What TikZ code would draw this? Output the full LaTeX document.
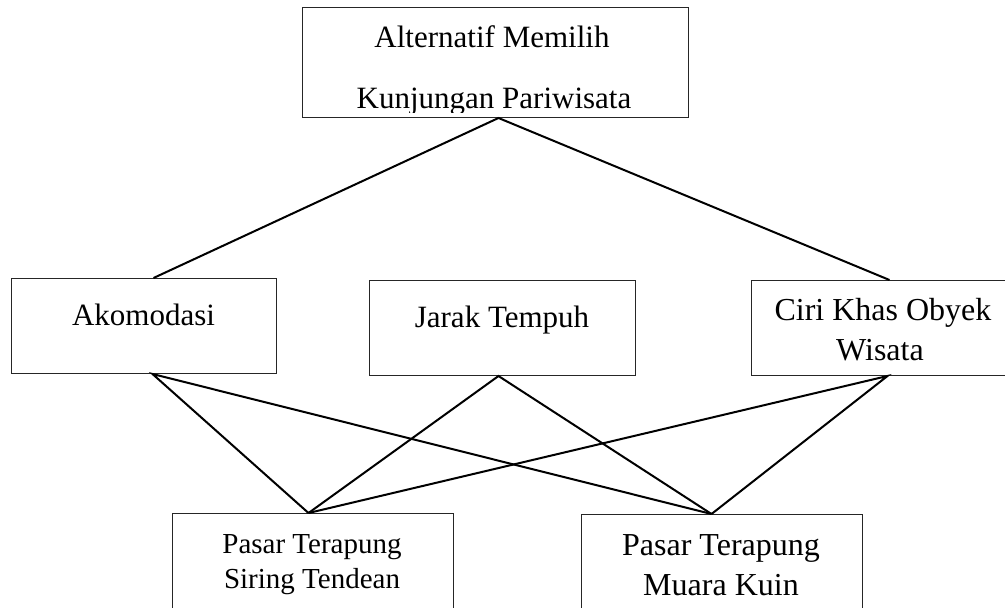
\documentclass[tikz,border=0pt]{standalone}
\usepackage{fontspec}
\setmainfont{Liberation Serif}
\begin{document}
\begin{tikzpicture}[x=1pt,y=-1pt,
  box/.style={draw=black!85, line width=1pt, rectangle, inner sep=0pt, anchor=north west},
  link/.style={draw=black, line width=2pt},
  lbl/.style={anchor=base, inner sep=0pt, font=\fontsize{31}{31}\selectfont},
  lblsmall/.style={lbl, font=\fontsize{29}{29}\selectfont},
  lblbig/.style={lbl, font=\fontsize{32}{32}\selectfont}]
\useasboundingbox (0,0) rectangle (1005,608);
\clip (0,0) rectangle (1005,608);
\fill[white] (0,0) rectangle (1005,608);
% boxes
\node[box, minimum width=386pt, minimum height=110pt] (goal) at (302,7) {};
\node[box, minimum width=265pt, minimum height=95pt] (ako) at (11,278) {};
\node[box, minimum width=266pt, minimum height=95pt] (jarak) at (369,280) {};
\node[box, minimum width=266pt, minimum height=95pt] (ciri) at (751,280) {};
\node[box, minimum width=281pt, minimum height=120pt] (siring) at (172,513) {};
\node[box, minimum width=281pt, minimum height=120pt] (kuin) at (581,514) {};
% labels
\begin{scope}
\clip (303,8) rectangle (687,112);
\node[lbl] (t1) at (492,47) {Alternatif Memilih};
\node[lbl] (t2) at (494,108) {Kunjungan Pariwisata};
\end{scope}
\node[lbl] (t3) at (143.5,325) {Akomodasi};
\node[lbl] (t4) at (502,327) {Jarak Tempuh};
\node[lblbig] (t5) at (883,320) {Ciri Khas Obyek};
\node[lblbig] (t6) at (880,360) {Wisata};
\node[lblsmall] (t7) at (312,553) {Pasar Terapung};
\node[lblsmall] (t8) at (312,588) {Siring Tendean};
\node[lblbig] (t9) at (721,555) {Pasar Terapung};
\node[lblbig] (t10) at (721,595) {Muara Kuin};
% connectors
\draw[link] ([xshift=9.5pt]ako.north) -- ([xshift=3pt]goal.south) -- ([xshift=5pt]ciri.north);
\draw[link] ([xshift=-4.5pt]siring.north) -- ([xshift=8.5pt]ako.south) -- ([xshift=-10.5pt]kuin.north);
\draw[link] ([xshift=-4.5pt]siring.north) -- ([xshift=-4pt]jarak.south) -- ([xshift=-10.5pt]kuin.north);
\draw[link] ([xshift=-4.5pt]siring.north) -- ([xshift=3pt]ciri.south) -- ([xshift=-10.5pt]kuin.north);
\end{tikzpicture}
\end{document}
